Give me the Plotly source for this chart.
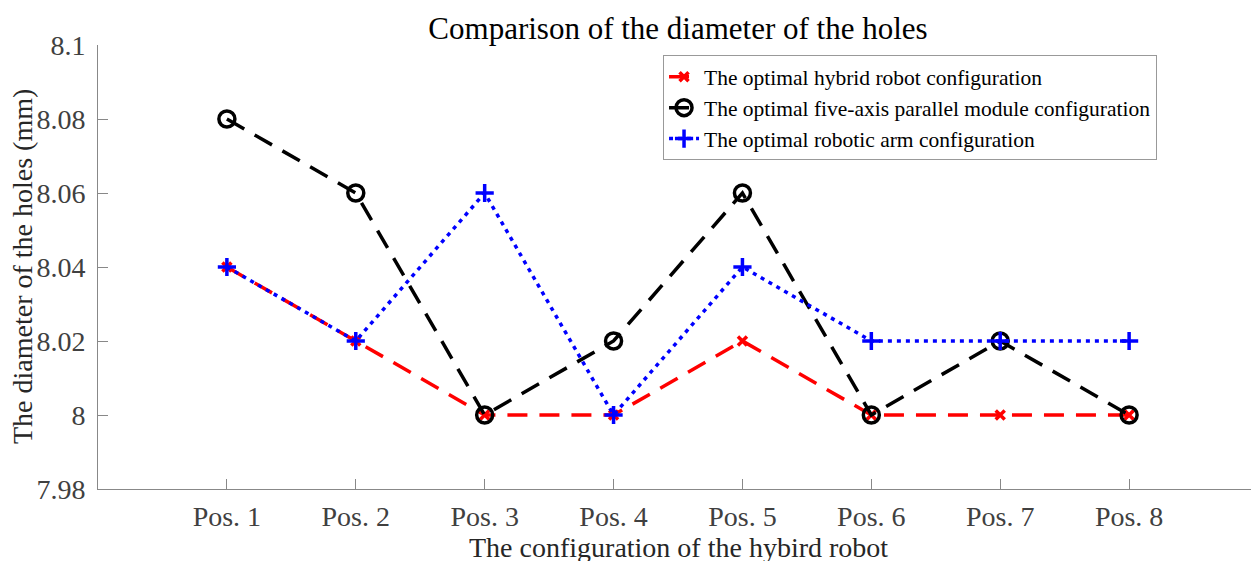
import plotly.graph_objects as go

categories = ["Pos. 1", "Pos. 2", "Pos. 3", "Pos. 4", "Pos. 5", "Pos. 6", "Pos. 7", "Pos. 8"]
hybrid = [8.04, 8.02, 8.00, 8.00, 8.02, 8.00, 8.00, 8.00]
five_axis = [8.08, 8.06, 8.00, 8.02, 8.06, 8.00, 8.02, 8.00]
robotic_arm = [8.04, 8.02, 8.06, 8.00, 8.04, 8.02, 8.02, 8.02]
y_ticks = [7.98, 8.00, 8.02, 8.04, 8.06, 8.08, 8.10]
y_ticktext = ["7.98", "8", "8.02", "8.04", "8.06", "8.08", "8.1"]

xpos = list(range(1, len(categories) + 1))
FONT = "Liberation Serif"

fig = go.Figure()
fig.add_trace(go.Scatter(
    x=xpos, y=hybrid, mode="lines+markers",
    name="The optimal hybrid robot configuration",
    line=dict(color="#ff0000", width=3.5, dash="20px,12px"),
    marker=dict(symbol="x-thin", size=9, line=dict(color="#ff0000", width=3.5), color="#ff0000"),
))
fig.add_trace(go.Scatter(
    x=xpos, y=five_axis, mode="lines+markers",
    name="The optimal five-axis parallel module configuration",
    line=dict(color="#000000", width=3.5, dash="20px,12px"),
    marker=dict(symbol="circle-open", size=16, line=dict(color="#000000", width=3.5), color="#000000"),
))
fig.add_trace(go.Scatter(
    x=xpos, y=robotic_arm, mode="lines+markers",
    name="The optimal robotic arm configuration",
    line=dict(color="#0000ff", width=3.5, dash="4px,5px"),
    marker=dict(symbol="cross-thin", size=13, line=dict(color="#0000ff", width=3.5), color="#0000ff"),
))

fig.update_layout(
    width=1251, height=553,
    margin=dict(l=90, r=1, t=37, b=72, autoexpand=False),
    paper_bgcolor="white", plot_bgcolor="white",
    font=dict(family=FONT, size=28, color="#404040"),
    title=dict(text="Comparison of the diameter of the holes", x=0.5356, xanchor="center",
               y=0.964, yanchor="middle", font=dict(family=FONT, size=31, color="#000000")),
    showlegend=True,
    legend=dict(x=0.4871, y=0.977, xanchor="left", yanchor="top",
                bgcolor="white", bordercolor="#999999", borderwidth=1,
                font=dict(family=FONT, size=21.5, color="#000000"),
                tracegroupgap=0, itemwidth=30),
    annotations=[
        dict(text="The configuration of the hybird robot", xref="paper", yref="paper",
             x=0.5, y=-0.131, xanchor="center", yanchor="middle", showarrow=False,
             font=dict(family=FONT, size=28, color="#262626")),
        dict(text="The diameter of the holes (mm)", xref="paper", yref="paper",
             x=-0.0655, y=0.5, xanchor="center", yanchor="middle", showarrow=False, textangle=-90,
             font=dict(family=FONT, size=28, color="#262626")),
    ],
)
fig.update_xaxes(
    range=[0, 9], tickvals=list(range(0, 10)),
    ticktext=[""] + categories + [""],
    ticks="inside", ticklen=10, tickcolor="#888888", tickwidth=1,
    showline=True, linecolor="#888888", linewidth=1, showgrid=False, zeroline=False,
    automargin=False, ticklabelstandoff=2,
    tickfont=dict(family=FONT, size=28, color="#404040"),
)
fig.update_yaxes(
    range=[7.98, 8.10], tickvals=y_ticks, ticktext=y_ticktext,
    ticks="inside", ticklen=10, tickcolor="#888888", tickwidth=1,
    showline=True, linecolor="#888888", linewidth=1, showgrid=False, zeroline=False,
    automargin=False, ticklabelstandoff=6,
    tickfont=dict(family=FONT, size=28, color="#404040"),
)

fig.write_html("out.html")
